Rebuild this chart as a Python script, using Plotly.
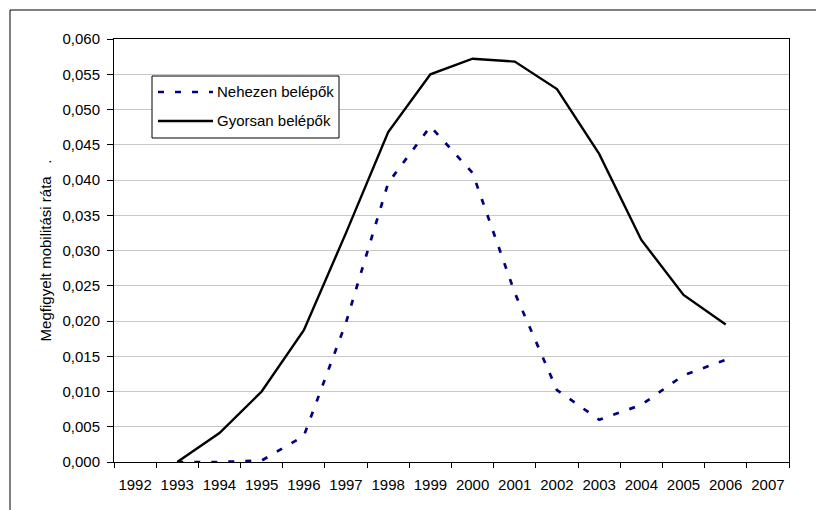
import plotly.graph_objects as go

years = [str(y) for y in range(1992, 2008)]
nehezen = [None, 0.0, 0.0, 0.0002, 0.0037, 0.0198, 0.0396, 0.0476, 0.0410, 0.0240,
           0.0102, 0.0060, 0.0081, 0.0123, 0.0145, None]
gyorsan = [None, 0.0, 0.0041, 0.0100, 0.0187, 0.0325, 0.0468, 0.0550, 0.0572, 0.0568,
           0.0529, 0.0437, 0.0315, 0.0237, 0.0195, None]
y_ticks = [i * 0.005 for i in range(13)]
series_names = ["Nehezen belépők", "Gyorsan belépők"]

FONT = "Liberation Sans, Arial, sans-serif"
DOT = dict(color="#000080", width=2.7, dash="6px,11px")
SOLID = dict(color="#000000", width=2.4)

# pixel helpers (plot area: x 114..789, y 39..462)
L, R, T, B = 114, 789, 39, 462
def px(x):
    return (x - L) / (R - L)
def py(y):
    return (B - y) / (B - T)

fig = go.Figure()
fig.add_trace(go.Scatter(x=years, y=nehezen, mode="lines", name=series_names[0],
                         line=DOT, connectgaps=False, showlegend=False))
fig.add_trace(go.Scatter(x=years, y=gyorsan, mode="lines", name=series_names[1],
                         line=SOLID, connectgaps=False, showlegend=False))

fig.update_layout(
    width=816, height=510,
    margin=dict(l=L, r=816 - R, t=T, b=510 - B),
    paper_bgcolor="white", plot_bgcolor="white",
    font=dict(family=FONT, size=15, color="black"),
    separators=", ",
    showlegend=False,
    xaxis=dict(
        type="category", categoryorder="array", categoryarray=years,
        range=[-0.5, 15.5], tickson="boundaries", ticks="outside", ticklen=5,
        tickcolor="black", showline=True, linecolor="black", linewidth=1,
        mirror=True, showgrid=False, tickfont=dict(size=15), tickangle=0,
        ticklabelstandoff=9, automargin=False, fixedrange=True),
    yaxis=dict(
        range=[0, 0.060], tickvals=y_ticks, tickformat=".3f",
        ticks="outside", ticklen=6, tickcolor="black",
        showline=True, linecolor="black", linewidth=1, mirror=True,
        showgrid=True, gridcolor="#c8c8c8", gridwidth=1, zeroline=False,
        ticklabelstandoff=4, automargin=False, fixedrange=True,
        title=dict(text="Megfigyelt mobilitási ráta\u00a0\u00a0\u00a0.",
                   font=dict(size=15), standoff=7)),
)

# outer chart border (extends past the bottom/right of the picture)
fig.add_shape(type="rect", xref="paper", yref="paper",
              x0=px(10), x1=px(830), y0=py(530), y1=py(10),
              line=dict(color="black", width=1), fillcolor="rgba(0,0,0,0)",
              layer="below")

# legend box
fig.add_shape(type="rect", xref="paper", yref="paper",
              x0=px(152), x1=px(339), y0=py(138), y1=py(76),
              line=dict(color="black", width=1), fillcolor="white", layer="above")
for row_y, style, name in [(92, DOT, series_names[0]), (121, SOLID, series_names[1])]:
    fig.add_shape(type="line", xref="paper", yref="paper",
                  x0=px(158), x1=px(213), y0=py(row_y), y1=py(row_y),
                  line=style, layer="above")
    fig.add_annotation(xref="paper", yref="paper", x=px(215), y=py(row_y),
                       text=name, showarrow=False, xanchor="left", yanchor="middle",
                       font=dict(family=FONT, size=15, color="black"))

fig.write_html("out.html", config={"displayModeBar": False, "staticPlot": True},
               post_script="document.body.style.margin='0';")
